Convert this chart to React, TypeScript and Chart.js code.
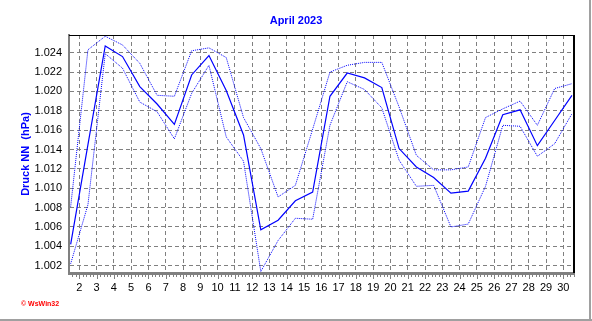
import React, { useEffect, useRef } from 'react';
import { Chart, registerables } from 'chart.js';

Chart.register(...registerables);

const chartTitle = 'April 2023';
const yAxisTitle = 'Druck NN  (hPa)';
const footerText = '\u00A9 WsWin32';

const days = [1, 2, 3, 4, 5, 6, 7, 8, 9, 10, 11, 12, 13, 14, 15, 16, 17, 18, 19, 20, 21, 22, 23, 24, 25, 26, 27, 28, 29, 30];

const avgPressure = [
  1.0042, 1.0145, 1.0247, 1.0236, 1.0205, 1.0187, 1.0166, 1.0217, 1.0237, 1.0201,
  1.0155, 1.0057, 1.0067, 1.0087, 1.0096, 1.0195, 1.0219, 1.0214, 1.0204, 1.0141,
  1.0122, 1.0111, 1.0095, 1.0097, 1.0131, 1.0176, 1.0181, 1.0144, 1.0170, 1.0196,
];

const maxPressure = [
  1.0081, 1.0243, 1.0257, 1.0248, 1.0229, 1.0196, 1.0195, 1.0242, 1.0245, 1.0235,
  1.0173, 1.0141, 1.0091, 1.0103, 1.0161, 1.0220, 1.0227, 1.0230, 1.0230, 1.0184,
  1.0134, 1.0119, 1.0119, 1.0122, 1.0173, 1.0182, 1.0190, 1.0165, 1.0203, 1.0208,
];

const minPressure = [
  1.0022, 1.0083, 1.0239, 1.0224, 1.0189, 1.0179, 1.0151, 1.0198, 1.0227, 1.0153,
  1.0128, 1.0014, 1.0046, 1.0069, 1.0068, 1.0165, 1.0210, 1.0202, 1.0183, 1.0129,
  1.0102, 1.0103, 1.0060, 1.0063, 1.0102, 1.0165, 1.0164, 1.0133, 1.0146, 1.0177,
];

const xTickLabels = [2, 3, 4, 5, 6, 7, 8, 9, 10, 11, 12, 13, 14, 15, 16, 17, 18, 19, 20, 21, 22, 23, 24, 25, 26, 27, 28, 29, 30];
const yTickValues = [1.002, 1.004, 1.006, 1.008, 1.01, 1.012, 1.014, 1.016, 1.018, 1.02, 1.022, 1.024];

const FONT = '"Liberation Sans", Arial, sans-serif';
const BLUE = '#0000ff';
const GRID = '#808080';

const toPoints = (vals: number[]) => days.map((d, i) => ({ x: d + 0.5, y: vals[i] }));

const decorPlugin = {
  id: 'decor',
  afterDraw(chart: any) {
    const { ctx, chartArea: a, scales } = chart;
    const x = scales.x;
    ctx.save();
    // top and right black frame of plot
    ctx.fillStyle = '#000';
    ctx.fillRect(Math.round(a.left), Math.round(a.top), Math.round(a.right - a.left) + 1, 1);
    ctx.fillRect(Math.round(a.right) - 1, Math.round(a.top), 2, Math.round(a.bottom - a.top));
    // minor/major ticks on x axis
    ctx.strokeStyle = GRID;
    ctx.lineWidth = 1;
    for (let k = Math.ceil(x.min * 5); k <= Math.floor(x.max * 5); k++) {
      const px = Math.round(x.getPixelForValue(k / 5)) + 0.5;
      const major = k % 5 === 0;
      ctx.beginPath();
      ctx.moveTo(px, a.bottom);
      ctx.lineTo(px, a.bottom + (major ? 6 : 4));
      ctx.stroke();
    }
    // footer
    ctx.fillStyle = '#ff0000';
    ctx.font = 'bold 7px ' + FONT;
    ctx.textBaseline = 'alphabetic';
    ctx.textAlign = 'left';
    ctx.fillText(footerText, 21, 306);
    // outer frame
    ctx.fillStyle = '#a0a0a0';
    ctx.fillRect(589, 0, 2, 321);
    ctx.fillRect(0, 319, 592, 2);
    ctx.restore();
  },
};

export default function App() {
  const ref = useRef<HTMLCanvasElement | null>(null);

  useEffect(() => {
    if (!ref.current) return;
    const chart = new Chart(ref.current, {
      type: 'line',
      data: {
        datasets: [
          {
            label: 'Max',
            data: toPoints(maxPressure),
            borderColor: BLUE,
            borderWidth: 1,
            borderDash: [1, 1],
            pointRadius: 0,
            tension: 0,
            fill: false,
          },
          {
            label: 'Min',
            data: toPoints(minPressure),
            borderColor: BLUE,
            borderWidth: 1,
            borderDash: [1, 1],
            pointRadius: 0,
            tension: 0,
            fill: false,
          },
          {
            label: 'Mittel',
            data: toPoints(avgPressure),
            borderColor: BLUE,
            borderWidth: 1.2,
            pointRadius: 0,
            tension: 0,
            fill: false,
          },
        ],
      },
      options: {
        animation: false,
        responsive: false,
        maintainAspectRatio: false,
        layout: { padding: 0, autoPadding: false },
        plugins: {
          legend: { display: false },
          tooltip: { enabled: false },
          title: {
            display: true,
            text: chartTitle,
            color: BLUE,
            font: { family: FONT, size: 11, weight: 'bold' },
            padding: { top: 14, bottom: 7.8 },
          },
        },
        scales: {
          x: {
            type: 'linear',
            min: 1.404,
            max: 30.619,
            afterFit: (s: any) => { s.height = 48; },
            afterBuildTicks: (s: any) => { s.ticks = xTickLabels.map((v) => ({ value: v })); },
            ticks: {
              color: '#000',
              font: { family: FONT, size: 11 },
              padding: 8,
              maxRotation: 0,
              autoSkip: false,
              callback: (v: any) => String(v),
            },
            grid: { color: GRID, lineWidth: 1, drawTicks: false },
            border: { display: true, color: GRID, width: 3, dash: [4, 3] },
          },
          y: {
            type: 'linear',
            position: 'left',
            min: 1.001246,
            max: 1.025828,
            afterFit: (s: any) => { s.width = 69; },
            afterBuildTicks: (s: any) => { s.ticks = yTickValues.map((v) => ({ value: v })); },
            ticks: {
              color: '#000',
              font: { family: FONT, size: 11 },
              padding: 7,
              autoSkip: false,
              callback: (v: any) => Number(v).toFixed(3),
            },
            grid: { color: GRID, lineWidth: 1, drawTicks: false },
            border: { display: true, color: GRID, width: 2, dash: [4, 3] },
            title: {
              display: true,
              text: yAxisTitle,
              color: BLUE,
              font: { family: FONT, size: 11, weight: 'bold' },
              padding: { top: 19, bottom: 0 },
            },
          },
          yR: {
            type: 'linear',
            position: 'right',
            display: true,
            afterFit: (s: any) => { s.width = 18; },
            ticks: { display: false },
            grid: { display: false },
            border: { display: false },
          },
        },
      },
      plugins: [decorPlugin],
    } as any);
    return () => chart.destroy();
  }, []);

  return (
    <div style={{ position: 'absolute', left: 0, top: 0, width: 592, height: 321, background: '#fff' }}>
      <canvas ref={ref} width={592} height={321} style={{ width: 592, height: 321, display: 'block' }} />
    </div>
  );
}
